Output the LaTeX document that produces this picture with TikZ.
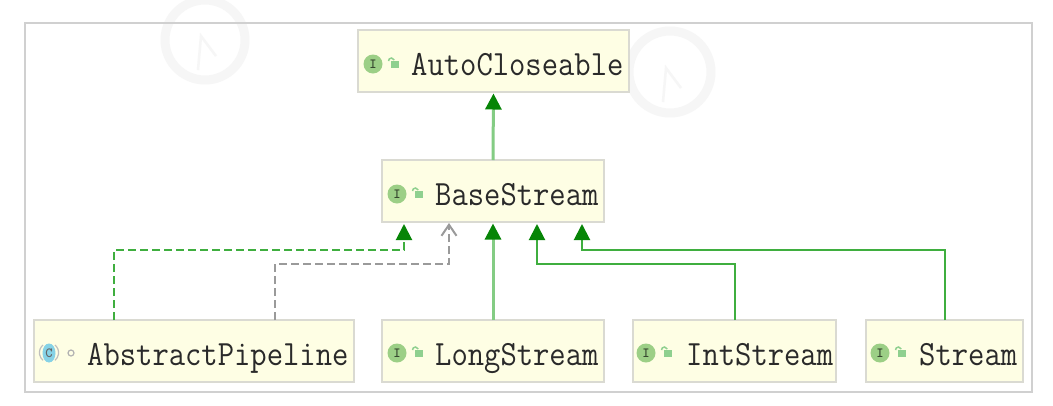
\documentclass[tikz,border=0pt]{standalone}
\usepackage{fontspec}
\usepackage{graphicx}
\usetikzlibrary{arrows.meta,calc}
\definecolor{frameg}{HTML}{D0D0D0}
\definecolor{boxfill}{HTML}{FEFEE4}
\definecolor{boxline}{HTML}{DADAD2}
\definecolor{inhline}{HTML}{3FAE3F}
\definecolor{softline}{HTML}{84CC84}
\definecolor{headg}{HTML}{078507}
\definecolor{iconi}{HTML}{9CCF86}
\definecolor{iconc}{HTML}{86D2E6}
\definecolor{lockg}{HTML}{8FD08F}
\definecolor{depg}{HTML}{9A9A9A}
\definecolor{txt}{HTML}{2A2A2A}
\definecolor{wmark}{HTML}{F6F6F6}
\newcommand{\lab}[1]{\scalebox{1}[1.12]{\addfontfeature{FakeBold=0.2}#1}}
\tikzset{
  x=1pt,y=-1pt,
  umlbox/.style={draw=boxline,fill=boxfill,line width=2pt,minimum height=62pt,inner sep=0pt,outer sep=0pt},
  lbl/.style={anchor=base west,inner sep=0pt,text=txt,font=\fontsize{31.7}{32}\selectfont\ttfamily},
  impl/.style={draw=inhline,line width=2pt,-{Triangle[width=16pt,length=16pt,color=headg,fill=headg]}},
  softimpl/.style={impl,draw=softline,line width=3pt,shorten >=1.5pt},
  implDash/.style={impl,dash pattern=on 8pt off 4pt},
  depend/.style={draw=depg,line width=2pt,dash pattern=on 8pt off 4pt,-{Straight Barb[length=11pt,width=15pt,line width=2pt,color=depg]}},
  wmring/.style={draw=wmark,line width=9pt},
}
\newcommand{\ifaceicon}[2]{%
  \fill[iconi] (#1,#2) circle[radius=9.5pt];
  \node[inner sep=0pt,text=black!65!iconi,font=\fontsize{14}{14}\selectfont\bfseries\ttfamily] at (#1,#2) {I};
  \draw[lockg,line width=1.5pt] ($(#1,#2)+(15.5,-3)$) arc[start angle=180,end angle=20,radius=3pt];
  \fill[lockg] ($(#1,#2)+(18,-3)$) rectangle ($(#1,#2)+(26,4)$);
}
\begin{document}
\begin{tikzpicture}
\useasboundingbox (0,0) rectangle (1053,405);
\fill[white] (0,0) rectangle (1053,405);
\begin{scope}
  \clip (0,0) rectangle (1053,405);
  \draw[wmring] (205,40) circle[radius=40pt];
  \draw[wmark,line width=2.5pt] (198,70) -- (201,36) -- (216,56);
  \draw[wmring] (670,72) circle[radius=41pt];
  \draw[wmark,line width=2.5pt] (663,102) -- (666,68) -- (681,88);
\end{scope}
\draw[frameg,line width=2pt] (25,23) rectangle (1032,392);

\node[umlbox,minimum width=271pt] (auto) at (493.5,61) {};
\node[umlbox,minimum width=222pt] (base) at (493,191) {};
\node[umlbox,minimum width=320pt] (pipe) at (194,351) {};
\node[umlbox,minimum width=222pt] (long) at (493,351) {};
\node[umlbox,minimum width=203pt] (int) at (734.5,351) {};
\node[umlbox,minimum width=157pt] (strm) at (944.5,351) {};

\node[lbl] at (411,75.5) {\lab{AutoCloseable}};
\node[lbl] at (435,205) {\lab{BaseStream}};
\node[lbl] at (87,365) {\lab{AbstractPipeline}};
\node[lbl] at (435,365) {\lab{LongStream}};
\node[lbl] at (686,365) {\lab{IntStream}};
\node[lbl] at (919,365) {\lab{Stream}};

\ifaceicon{373}{64}
\ifaceicon{397}{194}
\ifaceicon{397}{353}
\ifaceicon{646}{353}
\ifaceicon{880}{353}
% class icon
\fill[iconc] (49,353) ellipse[x radius=6.5pt,y radius=9.5pt];
\draw[black!25,line width=1.2pt] (43,345) arc[start angle=130,end angle=230,radius=10pt];
\draw[black!25,line width=1.2pt] (55,345) arc[start angle=50,end angle=-50,radius=10pt];
\node[inner sep=0pt,text=black!60,font=\fontsize{14}{14}\selectfont\bfseries\ttfamily] at (49,353) {C};
\draw[black!30,line width=1.2pt] (71,353) circle[radius=3pt];

\coordinate (h1) at (114,250);
\coordinate (h2) at (275,264);
\coordinate (t1) at (404,224);
\coordinate (t2) at (449,223);
\coordinate (t4) at (537,224);
\coordinate (t5) at (582,224);

\draw[softimpl] (long.north) -- (base.south);
\draw[softimpl] (base.north) -- (auto.south);
\draw[implDash] (h1|-pipe.north) -- (h1) -- (t1|-h1) -- (t1);
\draw[depend] (h2|-pipe.north) -- (h2) -- (t2|-h2) -- (t2);
\draw[impl] (int.north) -- (int.north|-h2) -- (t4|-h2) -- (t4);
\draw[impl] (strm.north) -- (strm.north|-h1) -- (t5|-h1) -- (t5);
\end{tikzpicture}
\end{document}
